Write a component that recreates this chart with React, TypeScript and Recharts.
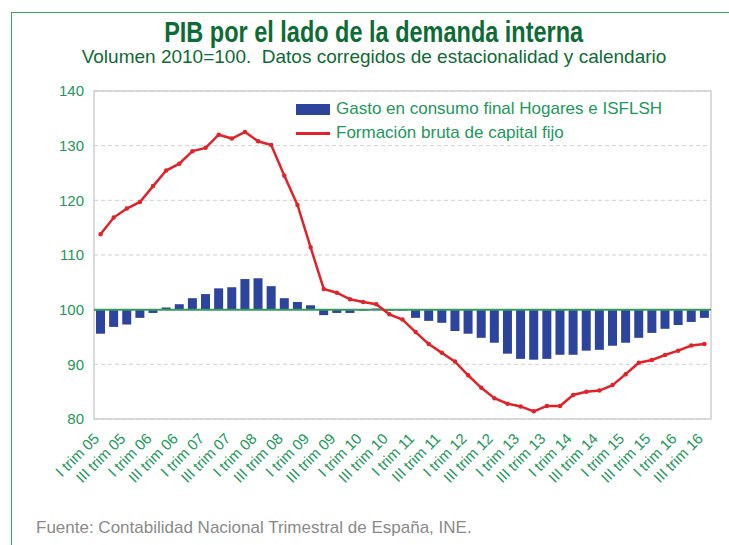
import React from 'react'
import { ComposedChart, Bar, Line, XAxis, YAxis, CartesianGrid, ReferenceLine, ReferenceArea } from 'recharts'

const quarters = [
  'I trim 05', 'II trim 05', 'III trim 05', 'IV trim 05',
  'I trim 06', 'II trim 06', 'III trim 06', 'IV trim 06',
  'I trim 07', 'II trim 07', 'III trim 07', 'IV trim 07',
  'I trim 08', 'II trim 08', 'III trim 08', 'IV trim 08',
  'I trim 09', 'II trim 09', 'III trim 09', 'IV trim 09',
  'I trim 10', 'II trim 10', 'III trim 10', 'IV trim 10',
  'I trim 11', 'II trim 11', 'III trim 11', 'IV trim 11',
  'I trim 12', 'II trim 12', 'III trim 12', 'IV trim 12',
  'I trim 13', 'II trim 13', 'III trim 13', 'IV trim 13',
  'I trim 14', 'II trim 14', 'III trim 14', 'IV trim 14',
  'I trim 15', 'II trim 15', 'III trim 15', 'IV trim 15',
  'I trim 16', 'II trim 16', 'III trim 16'
]

// Gasto en consumo final Hogares e ISFLSH (barras desde 100)
const consumo = [
  95.6, 96.85, 97.3, 98.5, 99.4, 100.4, 101.0, 102.1, 102.85, 103.9,
  104.1, 105.6, 105.75, 104.3, 102.1, 101.4, 100.8, 99.0, 99.4, 99.4,
  99.8, 100.2, 99.8, 99.85, 98.5, 97.95, 97.6, 96.1, 95.6, 94.85,
  93.95, 91.95, 91.0, 90.85, 91.0, 91.75, 91.75, 92.5, 92.65, 93.4,
  93.95, 94.85, 95.75, 96.5, 97.2, 97.75, 98.5
]

// Formación bruta de capital fijo
const fbcf = [
  113.8, 116.85, 118.5, 119.7, 122.6, 125.45, 126.7, 129.0, 129.6, 132.0,
  131.3, 132.5, 130.8, 130.1, 124.5, 119.15, 111.4, 103.8, 103.1, 101.9,
  101.4, 101.0, 99.15, 98.2, 95.9, 93.7, 92.1, 90.5, 88.0, 85.7,
  83.8, 82.8, 82.3, 81.4, 82.4, 82.4, 84.4, 85.0, 85.2, 86.2,
  88.2, 90.3, 90.8, 91.7, 92.5, 93.45, 93.7
]

const yTicks = [80, 90, 100, 110, 120, 130, 140]

const seriesNames = ['Gasto en consumo final Hogares e ISFLSH', 'Formación bruta de capital fijo']

const data = quarters.map((q, i) => ({ q, consumo: [100, consumo[i]], fbcf: fbcf[i] }))

const GREEN = '#22985a'
const BLUE = '#2c449b'
const RED = '#e0232b'
const font = "'Liberation Sans', Arial, sans-serif"

const XTick = (props: any) => {
  const { x, y, payload } = props
  return (
    <g transform={`translate(${x - 4},${y + 9}) rotate(-45)`}>
      <text x={0} y={0} dy={5} textAnchor="end" fill={GREEN} fontSize={15} fontFamily={font}>
        {payload.value}
      </text>
    </g>
  )
}

export default function App() {
  return (
    <div style={{ position: 'absolute', left: 0, top: 0, width: 729, height: 545, overflow: 'hidden', background: '#fff' }}>
      <div style={{ position: 'absolute', left: 11, top: 12, width: 800, height: 600, border: '1.5px solid #3aa362' }} />
      <div style={{ position: 'absolute', left: 0, width: 748, top: 15, textAlign: 'center' }}>
        <span style={{ display: 'inline-block', transform: 'scaleX(0.81)', fontFamily: font, fontWeight: 'bold', fontSize: 29, color: '#0d6b35', lineHeight: '34px', whiteSpace: 'nowrap' }}>
          PIB por el lado de la demanda interna
        </span>
      </div>
      <div style={{ position: 'absolute', left: 0, width: 748, top: 46, textAlign: 'center', fontFamily: font, fontSize: 19, color: '#0d6b35', lineHeight: '22px', whiteSpace: 'nowrap' }}>
        Volumen 2010=100.&nbsp; Datos corregidos de estacionalidad y calendario
      </div>
      <div style={{ position: 'absolute', left: 0, top: 0 }}>
        <ComposedChart width={729} height={545} data={data} margin={{ top: 91, right: 18, bottom: 66, left: 0 }} barSize={9}>
          <CartesianGrid vertical={false} stroke="#cfcfcf" strokeDasharray="4 3" />
          <ReferenceArea y1={80} y2={140} fill="none" stroke="#cfcfcf" strokeWidth={1.5} ifOverflow="visible" />
          <XAxis dataKey="q" interval={1} tick={<XTick />} tickLine={false} axisLine={false} height={60} />
          <YAxis domain={[80, 140]} ticks={yTicks} width={94} tickLine={false} axisLine={false} tickMargin={4}
            tick={{ fill: GREEN, fontSize: 15, fontFamily: font }} />
          <Bar dataKey="consumo" fill={BLUE} isAnimationActive={false} />
          <ReferenceLine y={100} stroke="#3a9a5b" strokeWidth={2} />
          <Line dataKey="fbcf" stroke={RED} strokeWidth={2.5} dot={{ r: 1, fill: RED, stroke: RED }} isAnimationActive={false} />
        </ComposedChart>
      </div>
      <div style={{ position: 'absolute', left: 296, top: 97, fontFamily: font, fontSize: 17, color: GREEN, lineHeight: '24px', whiteSpace: 'nowrap' }}>
        <div style={{ display: 'flex', alignItems: 'center' }}>
          <span style={{ display: 'inline-block', width: 34, height: 11, background: BLUE, marginRight: 6 }} />
          {seriesNames[0]}
        </div>
        <div style={{ display: 'flex', alignItems: 'center' }}>
          <span style={{ display: 'inline-block', width: 34, height: 3, background: RED, marginRight: 6 }} />
          {seriesNames[1]}
        </div>
      </div>
      <div style={{ position: 'absolute', left: 36, top: 518, fontFamily: font, fontSize: 17, color: '#8a8a8a' }}>
        Fuente: Contabilidad Nacional Trimestral de España, INE.
      </div>
    </div>
  )
}
